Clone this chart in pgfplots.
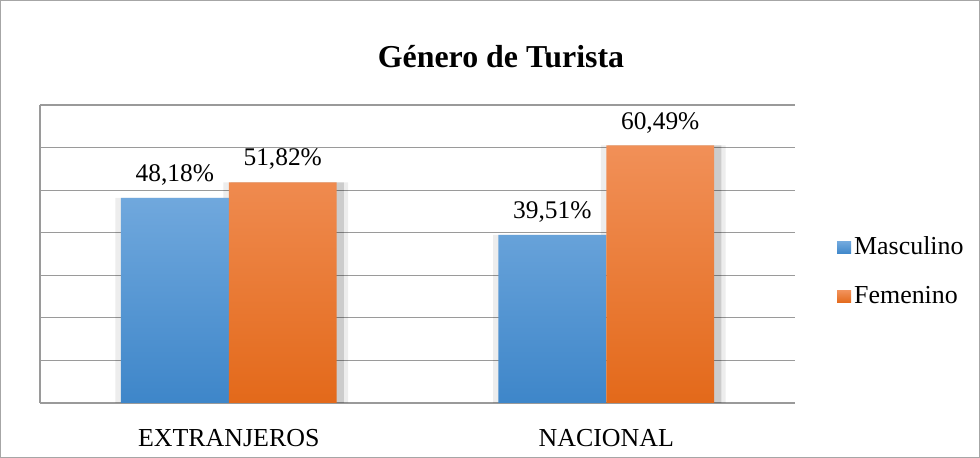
\documentclass[border=0pt]{standalone}
\usepackage{pgfplots}
\pgfplotsset{compat=1.18}
\usepackage{fontspec}
\setmainfont{Liberation Serif}
\definecolor{bluetop}{HTML}{70A8DD}
\definecolor{bluebot}{HTML}{3E86C9}
\definecolor{orgtop}{HTML}{F19058}
\definecolor{orgbot}{HTML}{E3691A}
\definecolor{gridgray}{HTML}{9A9A9A}
\begin{document}
\begin{tikzpicture}[x=1bp,y=1bp]
\path[use as bounding box] (0,0) rectangle (980,458);
\draw[gray!70, line width=1bp] (0.5,0.5) rectangle (979.5,457.5);
\node[font=\fontsize{32}{36}\selectfont\bfseries] at (501,401) {Género de Turista};
\begin{axis}[
  at={(40bp,55bp)}, anchor=south west,
  scale only axis, width=755bp, height=298bp,
  ymin=0, ymax=70, ytick={0,10,...,70}, yticklabels={},
  ymajorgrids, grid style={gridgray, line width=1.2bp},
  major tick length=0pt,
  xmin=-0.5, xmax=1.5, xtick=data,
  xticklabels={EXTRANJEROS,NACIONAL},
  x tick label style={font=\fontsize{26}{30}\selectfont, yshift=-23bp},
  axis x line*=bottom, axis y line*=left,
  axis line style={gridgray, line width=1.2bp},
  ybar=0pt, bar width=0.286,
  /pgf/number format/assume math mode=true,
  nodes near coords={\pgfmathprintnumber[fixed, fixed zerofill, precision=2, use comma, assume math mode=true]{\pgfplotspointmeta}\%},
  nodes near coords style={font=\fontsize{25.5}{29}\selectfont, black, yshift=9bp},
  every axis plot/.append style={draw=none},
  clip=false,
]
\addplot[draw=none, fill=black, fill opacity=0.07, bar width=0.33, bar shift=-0.143+0.008, nodes near coords={}, forget plot] coordinates {(0,48.18) (1,39.51)};
\addplot[draw=none, fill=black, fill opacity=0.10, bar width=0.30, bar shift=-0.143+0.012, nodes near coords={}, forget plot] coordinates {(0,48.18) (1,39.51)};
\addplot[draw=none, fill=black, fill opacity=0.07, bar width=0.33, bar shift=0.143+0.008, nodes near coords={}, forget plot] coordinates {(0,51.82) (1,60.49)};
\addplot[draw=none, fill=black, fill opacity=0.14, bar width=0.30, bar shift=0.143+0.012, nodes near coords={}, forget plot] coordinates {(0,51.82) (1,60.49)};
\addplot[draw=none, top color=bluetop, bottom color=bluebot, bar shift=-0.143] coordinates {(0,48.18) (1,39.51)};
\addplot[draw=none, top color=orgtop, bottom color=orgbot, bar shift=0.143] coordinates {(0,51.82) (1,60.49)};
\end{axis}
\fill[top color=bluetop, bottom color=bluebot] (837,204) rectangle (851,216);
\node[anchor=west, font=\fontsize{26}{30}\selectfont, inner sep=0pt] at (854,212) {Masculino};
\fill[top color=orgtop, bottom color=orgbot] (837,155) rectangle (851,167);
\node[anchor=west, font=\fontsize{26}{30}\selectfont, inner sep=0pt] at (854,163) {Femenino};
\end{tikzpicture}
\end{document}
